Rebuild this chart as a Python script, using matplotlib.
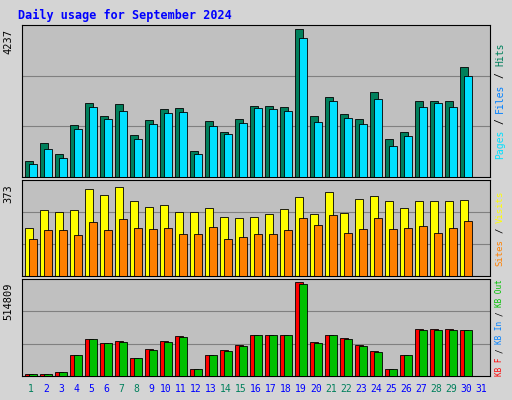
import matplotlib
matplotlib.use("Agg")
import matplotlib.pyplot as plt
import numpy as np

days = list(range(1, 32))
weekend = [1, 7, 8, 14, 15, 21, 22, 28, 29]
hits = [458, 973, 658, 1487, 2117, 1745, 2088, 1201, 1630, 1945, 1974, 744, 1602, 1287, 1659,
        2031, 2031, 2002, 4237, 1745, 2288, 1802, 1659, 2431, 1087, 1287, 2174, 2174, 2174, 3146, 0]
files = [372, 801, 543, 1373, 2002, 1659, 1888, 1087, 1516, 1830, 1859, 658, 1459, 1230, 1545,
         1974, 1945, 1888, 3979, 1573, 2174, 1688, 1516, 2231, 887, 1173, 2002, 2117, 2002, 2889, 0]
visits = [193, 263, 255, 263, 350, 326, 358, 302, 275, 283, 255, 255, 271, 236, 232,
          236, 248, 267, 318, 248, 338, 252, 310, 322, 299, 271, 299, 302, 302, 306, 0]
sites = [149, 185, 185, 165, 216, 185, 228, 193, 189, 193, 169, 169, 197, 149, 157,
         169, 169, 185, 232, 204, 244, 173, 189, 232, 189, 193, 201, 173, 193, 220, 0]
kb_f = [10000, 10000, 22000, 117000, 201000, 179000, 190000, 101000, 145000, 190000, 218000, 39000,
        117000, 140000, 168000, 224000, 224000, 224000, 514809, 185000, 224000, 207000, 168000, 134000,
        39000, 117000, 257000, 257000, 257000, 252000, 0]
kb_in = [9000, 9000, 20000, 115000, 200000, 178000, 186000, 99000, 140000, 186000, 215000, 37000,
         115000, 137000, 165000, 222000, 222000, 222000, 505000, 183000, 222000, 203000, 165000, 132000,
         37000, 115000, 250000, 252000, 251000, 249000, 0]

BG = "#C0C0C0"
fig = plt.figure(figsize=(5.12, 4.0), dpi=100, facecolor="#D4D4D4")
fig.text(18 / 512, 1 - 15 / 400, "Daily usage for September 2024", color="#0000FF",
         family="DejaVu Sans Mono", weight="bold", fontsize=8.5, va="center")

panels = [(25, 177), (180, 276), (279, 376)]
L, R = 22 / 512, 490 / 512
x = np.array(days)
w = 0.5

def mkax(top, bot):
    ax = fig.add_axes([L, 1 - bot / 400, R - L, (bot - top) / 400])
    ax.set_facecolor(BG)
    ax.set_xlim(0.4, 31.6)
    ax.set_yticks([])
    ax.set_xticks([])
    for s in ax.spines.values():
        s.set_color("black")
        s.set_linewidth(0.8)
    return ax

def grid(ax, m):
    for f in (1 / 3, 2 / 3):
        ax.axhline(m * f, color="#808080", lw=0.8, zorder=0)

def ylab(ax, top, s):
    fig.text(8 / 512, 1 - (top + 4) / 400, s, rotation=90, ha="center", va="top", fontsize=7.5,
             family="DejaVu Sans Mono")

def rlab(bot, top, parts, fs):
    # parts listed from bottom to top
    ch = fs * 100 / 72 * 0.6
    n = sum(len(p) for p, _ in parts) + 3 * (len(parts) - 1)
    y = (bot + top) / 2 + n * ch / 2
    for i, (p, c) in enumerate(parts):
        fig.text(500 / 512, 1 - y / 400, p, rotation=90, color=c, ha="center", va="bottom",
                 fontsize=fs, family="DejaVu Sans Mono")
        y -= len(p) * ch
        if i < len(parts) - 1:
            fig.text(500 / 512, 1 - (y - 1.5 * ch) / 400, "/", rotation=90, color="black",
                     ha="center", va="center", fontsize=fs, family="DejaVu Sans Mono")
            y -= 3 * ch

ax1 = mkax(*panels[0])
ax1.set_ylim(0, 4237 * 1.03)
grid(ax1, 4237 * 1.03)
ax1.bar(x - 0.12, hits, w, color="#00805C", edgecolor="black", lw=0.6, zorder=2)
ax1.bar(x + 0.12, files, w, color="#00E0FF", edgecolor="black", lw=0.6, zorder=3)
ylab(ax1, panels[0][0], "4237")
rlab(177, 25, [("Pages", "#00E0FF"), ("Files", "#0080FF"), ("Hits", "#00805C")], 7)

ax2 = mkax(*panels[1])
ax2.set_ylim(0, 373 * 1.03)
grid(ax2, 373 * 1.03)
ax2.bar(x - 0.12, visits, w, color="#FFFF00", edgecolor="black", lw=0.6, zorder=2)
ax2.bar(x + 0.12, sites, w, color="#FF8000", edgecolor="black", lw=0.6, zorder=3)
ylab(ax2, panels[1][0], "373")
rlab(276, 180, [("Sites", "#FF8000"), ("Visits", "#FFFF00")], 6.5)

ax3 = mkax(*panels[2])
ax3.set_ylim(0, 514809 * 1.03)
grid(ax3, 514809 * 1.03)
ax3.bar(x - 0.12, kb_f, w, color="#FF0000", edgecolor="black", lw=0.6, zorder=2)
ax3.bar(x + 0.12, kb_in, w, color="#00C000", edgecolor="black", lw=0.6, zorder=3)
ylab(ax3, panels[2][0], "514809")
rlab(376, 279, [("KB F", "#FF0000"), ("KB In", "#0080FF"), ("KB Out", "#00C000")], 5.5)

for d in days:
    fig.text((L + (d - 0.4) / 31.2 * (R - L)), 1 - 389 / 400, str(d), ha="center", va="center",
             fontsize=7, family="DejaVu Sans Mono",
             color="#00805C" if d in weekend else "#0000FF")

fig.savefig("out.png", dpi=100, facecolor=fig.get_facecolor())
